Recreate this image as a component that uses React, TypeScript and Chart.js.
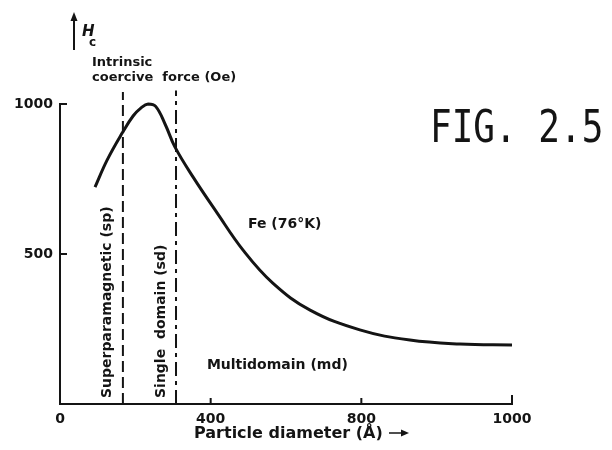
import { useEffect, useRef } from 'react';
import { Chart, registerables } from 'chart.js';

Chart.register(...registerables);

// Particle diameter (axis units, ticks at 0/400/800 and the end tick printed "1000")
const diameter = [93, 125, 165, 194, 216, 234, 254, 280, 305, 353, 417, 486, 565, 664, 796, 929, 1062, 1200];
// Intrinsic coercive force Hc (Oe), Fe at 76 K
const coercivity = [723, 813, 903, 960, 988, 1000, 992, 930, 857, 757, 637, 513, 403, 313, 247, 213, 200, 197];

// Region boundaries (axis units)
const spBoundary = [167, 167];
const sdBoundary = [308, 308];
const spBoundaryH = [0, 1040];
const sdBoundaryH = [0, 1045];

const xTickValues = [0, 400, 800, 1200];
const xTickLabels = ['0', '400', '800', '1000'];
const yTickValues = [500, 1000];
const yTickLabels = ['500', '1000'];

const INK = '#141414';
const SANS = '"DejaVu Sans", "Liberation Sans", sans-serif';

const decorPlugin = {
  id: 'figureDecor',
  afterDraw(chart: any) {
    const { ctx, scales } = chart;
    const x = scales.x;
    const y = scales.y;
    ctx.save();
    ctx.strokeStyle = INK;
    ctx.fillStyle = INK;
    ctx.lineCap = 'butt';

    // inward tick marks
    ctx.lineWidth = 2;
    for (const v of yTickValues) {
      const py = y.getPixelForValue(v);
      ctx.beginPath();
      ctx.moveTo(x.left, py);
      ctx.lineTo(x.left + 7, py);
      ctx.stroke();
    }
    for (const v of xTickValues.slice(1)) {
      const px = x.getPixelForValue(v);
      ctx.beginPath();
      ctx.moveTo(px, y.bottom);
      ctx.lineTo(px, y.bottom - (v === xTickValues[xTickValues.length - 1] ? 9 : 6));
      ctx.stroke();
    }

    // Hc arrow and symbol
    ctx.lineWidth = 2;
    ctx.beginPath();
    ctx.moveTo(74, 50);
    ctx.lineTo(74, 18);
    ctx.stroke();
    ctx.beginPath();
    ctx.moveTo(74, 12);
    ctx.lineTo(70.5, 21);
    ctx.lineTo(77.5, 21);
    ctx.closePath();
    ctx.fill();

    ctx.textBaseline = 'alphabetic';
    ctx.textAlign = 'left';
    ctx.font = `italic bold 15px ${SANS}`;
    ctx.fillText('H', 82, 36);
    ctx.font = `bold 12px ${SANS}`;
    ctx.fillText('c', 89, 46);

    ctx.font = `bold 13px ${SANS}`;
    ctx.fillText('Intrinsic', 92, 66);
    ctx.fillText('coercive  force (Oe)', 92, 81);

    // in-plot labels
    ctx.font = `bold 14px ${SANS}`;
    ctx.fillText('Fe (76\u00B0K)', x.getPixelForValue(499), y.getPixelForValue(587));
    ctx.fillText('Multidomain (md)', x.getPixelForValue(390), y.getPixelForValue(117));

    ctx.font = `bold 14px ${SANS}`;
    const rot = (text: string, vx: number, vy: number) => {
      ctx.save();
      ctx.translate(x.getPixelForValue(vx), y.getPixelForValue(vy));
      ctx.rotate(-Math.PI / 2);
      ctx.fillText(text, 0, 0);
      ctx.restore();
    };
    rot('Superparamagnetic (sp)', 135, 20);
    rot('Single  domain (sd)', 279, 20);

    // x axis title with arrow
    ctx.font = `bold 16px ${SANS}`;
    ctx.fillText('Particle diameter (\u00C5)', 194, 438);
    ctx.lineWidth = 1.5;
    ctx.beginPath();
    ctx.moveTo(389, 433);
    ctx.lineTo(403, 433);
    ctx.stroke();
    ctx.beginPath();
    ctx.moveTo(409, 433);
    ctx.lineTo(401, 429.5);
    ctx.lineTo(401, 436.5);
    ctx.closePath();
    ctx.fill();

    // figure number
    ctx.save();
    ctx.translate(430, 142);
    ctx.scale(1, 1.22);
    ctx.font = `36px "DejaVu Sans Mono", "Liberation Mono", monospace`;
    ctx.fillText('FIG. 2.5', 0, 0);
    ctx.restore();

    ctx.restore();
  },
};

export default function App() {
  const canvasRef = useRef<HTMLCanvasElement | null>(null);

  useEffect(() => {
    const canvas = canvasRef.current;
    if (!canvas) return;
    const chart = new Chart(canvas, {
      type: 'line',
      data: {
        datasets: [
          {
            data: diameter.map((d, i) => ({ x: d, y: coercivity[i] })),
            borderColor: INK,
            borderWidth: 3,
            pointRadius: 0,
            tension: 0.4,
            fill: false,
            clip: 4,
          },
          {
            data: spBoundary.map((d, i) => ({ x: d, y: spBoundaryH[i] })),
            borderColor: INK,
            borderWidth: 2,
            borderDash: [11, 5],
            pointRadius: 0,
            clip: false,
            fill: false,
          },
          {
            data: sdBoundary.map((d, i) => ({ x: d, y: sdBoundaryH[i] })),
            borderColor: INK,
            borderWidth: 2,
            borderDash: [14, 5, 4, 5],
            pointRadius: 0,
            clip: false,
            fill: false,
          },
        ],
      },
      options: {
        animation: false,
        responsive: false,
        devicePixelRatio: 1,
        layout: { padding: { left: 8, right: 100, top: 104, bottom: 0 } },
        plugins: { legend: { display: false }, tooltip: { enabled: false } },
        scales: {
          x: {
            type: 'linear',
            min: 0,
            max: 1200,
            grid: { display: false, drawTicks: false },
            border: { display: true, color: INK, width: 2 },
            afterBuildTicks: (s: any) => {
              s.ticks = xTickValues.map((v) => ({ value: v }));
            },
            afterFit: (s: any) => {
              s.height = 46;
            },
            ticks: {
              autoSkip: false,
              maxRotation: 0,
              padding: 7,
              color: INK,
              font: { family: SANS, size: 14, weight: 'bold' },
              callback: (v: any) => xTickLabels[xTickValues.indexOf(Number(v))],
            },
          },
          y: {
            type: 'linear',
            min: 0,
            max: 1000,
            grid: { display: false, drawTicks: false },
            border: { display: true, color: INK, width: 2 },
            afterBuildTicks: (s: any) => {
              s.ticks = yTickValues.map((v) => ({ value: v }));
            },
            afterFit: (s: any) => {
              s.width = 52;
            },
            ticks: {
              padding: 7,
              color: INK,
              font: { family: SANS, size: 14, weight: 'bold' },
              callback: (v: any) => yTickLabels[yTickValues.indexOf(Number(v))],
            },
          },
        },
      },
      plugins: [decorPlugin],
    } as any);
    return () => chart.destroy();
  }, []);

  return (
    <div style={{ position: 'fixed', left: 0, top: 0, width: 612, height: 450, background: '#fff' }}>
      <canvas ref={canvasRef} width={612} height={450} style={{ display: 'block' }} />
    </div>
  );
}
